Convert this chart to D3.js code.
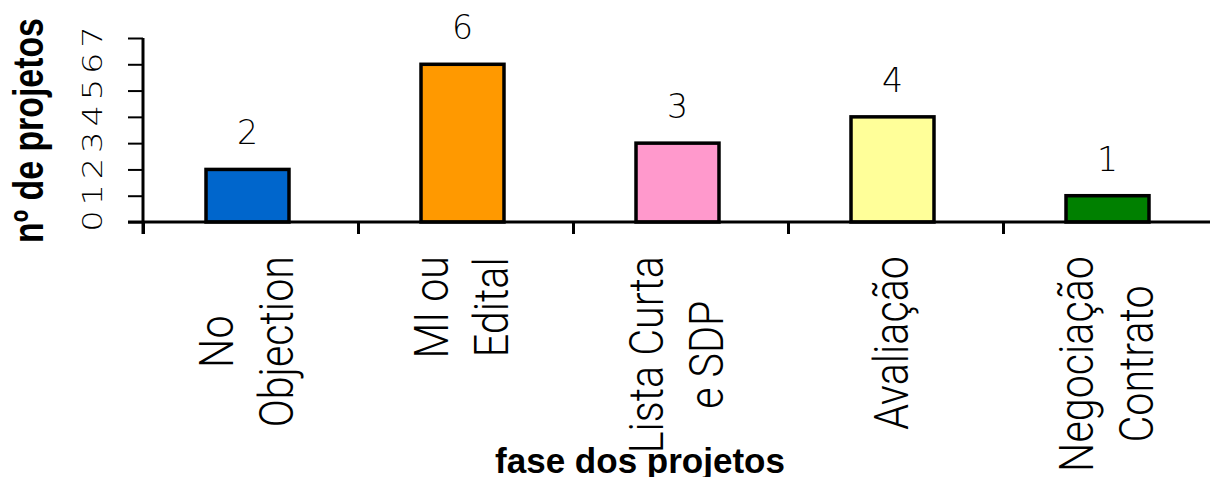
<!DOCTYPE html>
<html>
<head>
<meta charset="utf-8">
<script src="https://cdn.jsdelivr.net/npm/d3@7"></script>
<style>
  body { margin: 0; background: #fff; }
  svg { display: block; }
</style>
</head>
<body>
<script>
// chart data
const categories = ["No\nObjection", "MI ou\nEdital", "Lista Curta\ne SDP", "Avaliação", "Negociação\nContrato"];
const values = [2, 6, 3, 4, 1];
const yTicks = [0, 1, 2, 3, 4, 5, 6, 7];
const yTitle = "nº de projetos";
const xTitle = "fase dos projetos";

const barColors = ["#0066cc", "#ff9900", "#ff99cc", "#ffff99", "#008000"];

const width = 1210, height = 477;
const plot = { left: 143, right: 1218, top: 38, bottom: 222 };

const svg = d3.select("body").append("svg")
    .attr("width", width)
    .attr("height", height);

const x = d3.scaleBand()
    .domain(categories)
    .range([plot.left, plot.right])
    .paddingInner(0.614)
    .paddingOuter(0.307);

// band edges for the category tick marks
const xEdges = d3.scaleLinear()
    .domain([0, categories.length])
    .range([plot.left, plot.right]);

const y = d3.scaleLinear()
    .domain([0, 7])
    .range([plot.bottom, plot.top]);

// y axis ticks
const yAxis = svg.append("g")
    .attr("transform", "translate(" + plot.left + ",0)")
    .call(d3.axisLeft(y).tickValues(yTicks).tickSize(15).tickFormat(""));
yAxis.select(".domain").remove();
yAxis.selectAll(".tick line").attr("stroke", "#000").attr("stroke-width", 2);

// x axis ticks
const xAxis = svg.append("g")
    .attr("transform", "translate(0," + plot.bottom + ")")
    .call(d3.axisBottom(xEdges).tickValues(d3.range(0, categories.length + 1)).tickSize(12).tickFormat(""));
xAxis.select(".domain").remove();
xAxis.selectAll(".tick line").attr("stroke", "#000").attr("stroke-width", 3);

// bars
svg.selectAll("rect.bar")
    .data(values)
    .enter().append("rect")
    .attr("class", "bar")
    .attr("x", (d, i) => x(categories[i]) - 3)
    .attr("y", d => y(d))
    .attr("width", x.bandwidth())
    .attr("height", d => y(0) - y(d))
    .attr("fill", (d, i) => barColors[i])
    .attr("stroke", "#000")
    .attr("stroke-width", 3.5);

// axis lines drawn over the bars
svg.append("line")
    .attr("x1", plot.left - 15).attr("x2", width)
    .attr("y1", y(0)).attr("y2", y(0))
    .attr("stroke", "#000").attr("stroke-width", 3);
svg.append("line")
    .attr("x1", plot.left).attr("x2", plot.left)
    .attr("y1", y(7)).attr("y2", y(0) + 12)
    .attr("stroke", "#000").attr("stroke-width", 3);

// y tick labels (rotated)
svg.selectAll("text.ytick")
    .data(yTicks)
    .enter().append("text")
    .attr("class", "ytick")
    .attr("transform", d => "translate(102," + (y(d) - 1) + ") rotate(-90) scale(1.25,1)")
    .attr("text-anchor", "middle")
    .style("font-family", "'DejaVu Sans', sans-serif")
    .style("font-weight", "200")
    .style("font-size", "27px")
    .text(d => d);

// value labels
svg.selectAll("text.value")
    .data(values)
    .enter().append("text")
    .attr("class", "value")
    .attr("x", (d, i) => x(categories[i]) - 3 + x.bandwidth() / 2)
    .attr("y", d => y(d) - 25)
    .attr("text-anchor", "middle")
    .style("font-family", "'DejaVu Sans', sans-serif")
    .style("font-weight", "200")
    .style("font-size", "33px")
    .text(d => d);

// category labels: rotated, lines centred on the longest one, block top near the axis
const labelTop = 256, lineGap = 60, labelScale = 0.86;
categories.forEach((cat, i) => {
    const lines = cat.split("\n");
    const cx = x(cat) + x.bandwidth() / 2;
    const texts = lines.map(line => svg.append("text")
        .attr("text-anchor", "middle")
        .style("font-family", "Roboto, 'Liberation Sans', sans-serif")
        .style("font-weight", "300")
        .style("font-size", "48px")
        .text(line));
    const maxLen = d3.max(texts, t => t.node().getComputedTextLength()) * labelScale;
    texts.forEach((t, j) => {
        const bx = cx + 12 + (j - (lines.length - 1) / 2) * lineGap;
        t.attr("transform", "translate(" + bx + "," + (labelTop + maxLen / 2) + ") rotate(-90) scale(" + labelScale + ",1)");
    });
});

// axis titles
svg.append("text")
    .attr("transform", "translate(43,130.5) rotate(-90) scale(0.806,1)")
    .attr("text-anchor", "middle")
    .style("font-family", "'Liberation Sans', Arial, sans-serif")
    .style("font-weight", "bold")
    .style("font-size", "42px")
    .text(yTitle);

svg.append("text")
    .attr("x", 640)
    .attr("y", 473)
    .attr("text-anchor", "middle")
    .style("font-family", "'Liberation Sans', Arial, sans-serif")
    .style("font-weight", "bold")
    .style("font-size", "35px")
    .text(xTitle);
</script>
</body>
</html>
